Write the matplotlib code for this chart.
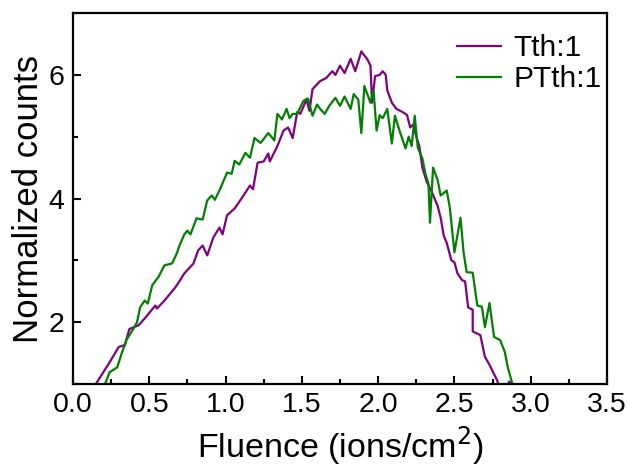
import matplotlib
matplotlib.use("Agg")
import matplotlib.pyplot as plt
from matplotlib.ticker import MultipleLocator

plt.rcParams["font.family"] = ["Liberation Sans", "DejaVu Sans"]

# Tth:1 (purple)
tth_x = [0.12, 0.15, 0.24, 0.30, 0.34, 0.37, 0.43, 0.47, 0.54, 0.55, 0.60, 0.67, 0.70, 0.73,
         0.79, 0.82, 0.85, 0.88, 0.92, 0.96, 0.98, 1.01, 1.06, 1.11, 1.16, 1.18, 1.21, 1.25,
         1.28, 1.29, 1.34, 1.38, 1.41, 1.44, 1.47, 1.49, 1.53, 1.55, 1.57, 1.62, 1.66, 1.70,
         1.72, 1.75, 1.78, 1.82, 1.85, 1.89, 1.93, 1.95, 1.96, 1.98, 2.01, 2.03, 2.05, 2.06,
         2.09, 2.12, 2.16, 2.19, 2.21, 2.23, 2.25, 2.27, 2.29, 2.32, 2.35, 2.39, 2.41, 2.43,
         2.45, 2.48, 2.50, 2.52, 2.55, 2.57, 2.59, 2.62, 2.62, 2.67, 2.70, 2.73, 2.78, 2.80,
         2.84, 2.86, 2.88, 2.92]
tth_y = [0.80, 1.00, 1.35, 1.60, 1.63, 1.89, 1.95, 2.06, 2.27, 2.22, 2.35, 2.56, 2.67, 2.79,
         2.95, 3.16, 3.24, 3.08, 3.37, 3.53, 3.42, 3.73, 3.84, 4.02, 4.21, 4.15, 4.58, 4.60,
         4.73, 4.60, 4.85, 5.10, 5.15, 4.98, 5.40, 5.37, 5.60, 5.42, 5.77, 5.90, 5.95, 6.06,
         6.00, 6.15, 6.03, 6.26, 6.06, 6.38, 6.25, 6.15, 5.55, 5.98, 6.00, 6.06, 6.00, 5.75,
         5.55, 5.45, 5.40, 5.35, 5.15, 5.20, 5.00, 4.85, 4.50, 4.26, 4.12, 3.88, 3.69, 3.40,
         3.28, 3.00, 2.97, 2.79, 2.68, 2.66, 2.24, 2.20, 1.85, 1.79, 1.44, 1.31, 1.06, 0.90,
         0.95, 1.04, 0.90, 0.80]

# PTth:1 (green)
ptth_x = [0.18, 0.21, 0.24, 0.29, 0.32, 0.35, 0.39, 0.42, 0.44, 0.47, 0.49, 0.52, 0.56, 0.60,
          0.65, 0.68, 0.70, 0.73, 0.75, 0.77, 0.81, 0.85, 0.88, 0.91, 0.93, 0.96, 1.01, 1.04,
          1.06, 1.09, 1.13, 1.16, 1.19, 1.23, 1.28, 1.32, 1.34, 1.37, 1.40, 1.42, 1.44, 1.47,
          1.51, 1.54, 1.57, 1.60, 1.62, 1.65, 1.68, 1.72, 1.75, 1.78, 1.82, 1.84, 1.87, 1.89,
          1.91, 1.95, 1.97, 1.99, 2.01, 2.03, 2.06, 2.09, 2.11, 2.14, 2.18, 2.20, 2.22, 2.24,
          2.26, 2.29, 2.31, 2.33, 2.34, 2.36, 2.39, 2.41, 2.45, 2.47, 2.50, 2.54, 2.56, 2.58,
          2.62, 2.65, 2.68, 2.70, 2.73, 2.76, 2.80, 2.83, 2.85, 2.88, 2.90]
ptth_y = [0.90, 1.00, 1.19, 1.27, 1.50, 1.71, 1.87, 2.00, 2.24, 2.35, 2.30, 2.60, 2.73, 2.92,
          2.95, 3.11, 3.25, 3.42, 3.48, 3.42, 3.68, 3.66, 3.97, 4.05, 3.98, 4.13, 4.42, 4.40,
          4.61, 4.55, 4.74, 4.66, 4.98, 4.90, 5.06, 4.94, 5.37, 5.28, 5.45, 5.30, 5.37, 5.37,
          5.58, 5.62, 5.34, 5.52, 5.45, 5.37, 5.50, 5.63, 5.50, 5.65, 5.45, 5.69, 5.60, 5.06,
          5.82, 5.55, 5.75, 5.10, 5.35, 5.30, 5.45, 4.89, 5.34, 5.10, 4.81, 5.00, 4.85, 5.34,
          4.82, 4.65, 4.40, 4.24, 3.61, 4.50, 4.30, 4.05, 4.13, 3.85, 3.13, 3.69, 3.13, 2.81,
          2.80, 2.27, 2.25, 1.92, 2.31, 1.76, 1.71, 1.52, 1.27, 1.00, 0.90]

fig = plt.figure(figsize=(6.29, 4.68), dpi=100)
ax = fig.add_axes([0.116, 0.1795, 0.849, 0.7925])

ax.plot(tth_x, tth_y, color="#800080", lw=1.6, label="Tth:1")
ax.plot(ptth_x, ptth_y, color="#008000", lw=1.6, label="PTth:1")

ax.set_xlim(0, 3.5)
ax.set_ylim(1, 7)
ax.xaxis.set_major_locator(MultipleLocator(0.5))
ax.xaxis.set_minor_locator(MultipleLocator(0.25))
ax.yaxis.set_major_locator(MultipleLocator(2))
ax.yaxis.set_minor_locator(MultipleLocator(1))
ax.tick_params(which="both", direction="in", width=1.5, labelsize=20.5, pad=6)
ax.tick_params(which="major", length=6)
ax.tick_params(which="minor", length=3.5)
for s in ax.spines.values():
    s.set_linewidth(1.6)

ax.set_xlabel("Fluence (ions/cm$^2$)", fontsize=24.5, labelpad=4)
ax.set_ylabel("Normalized counts", fontsize=25, labelpad=3)

ax.legend(loc="upper right", bbox_to_anchor=(1.029, 1.0), frameon=False, fontsize=21.5,
          handlelength=1.47, handletextpad=0.4, labelspacing=0.1, borderaxespad=0.3)

fig.savefig("out.png", dpi=100)
